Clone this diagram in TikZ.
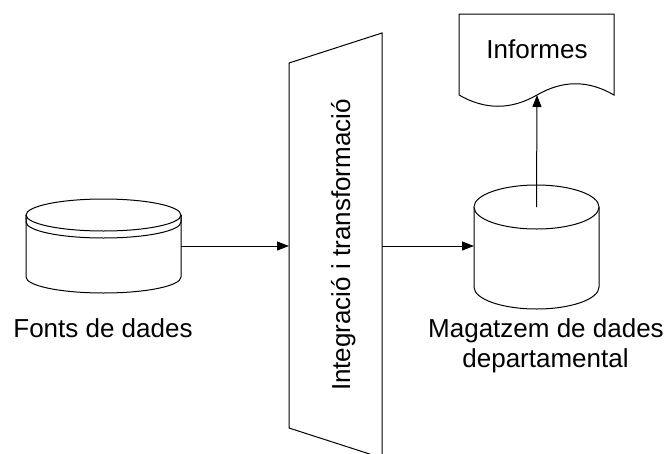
\documentclass[tikz,border=0pt]{standalone}
\usepackage{fontspec}
\setmainfont{Liberation Sans}
\usetikzlibrary{arrows.meta}
\begin{document}
\begin{tikzpicture}[x=0.75pt,y=-0.75pt,
  outline/.style={draw=black,line width=0.75pt,line join=miter},
  link/.style={draw=black,line width=0.75pt,-{Triangle[length=9pt,width=6.75pt]}},
  caption/.style={font=\fontsize{19.5pt}{22.5pt}\selectfont,inner sep=0pt,anchor=base}]
\useasboundingbox (0,0) rectangle (669,454);
\begin{scope}
\clip (0,0) rectangle (669,454);

% source disk with a double rim (y axis points down, so the lower halves run 180 -> 0)
\path[outline,fill=white] (26,215) -- (26,277) arc[start angle=180,end angle=0,x radius=77.5,y radius=16] -- (181,215);
\path[outline,fill=white] (103.5,215) ellipse[x radius=77.5,y radius=16];
\path[outline] (26,215) -- (26,222) arc[start angle=180,end angle=0,x radius=77.5,y radius=16] -- (181,215);
\coordinate (src) at (181,246);
\node[caption] (srclabel) at (103,337) {Fonts de dades};

% integration / transformation funnel
\path[outline] (289,63) -- (382,33) -- (382,458) -- (289,428) -- cycle;
\coordinate (funnel-w) at (289,246);
\coordinate (funnel-e) at (382,246);
\node[caption,rotate=90] (funnellabel) at (350,245) {Integració i transformació};

% departmental data store
\path[outline,fill=white] (474,207) -- (474,287) arc[start angle=180,end angle=0,x radius=62.5,y radius=22] -- (599,207);
\path[outline,fill=white] (536.5,207) ellipse[x radius=62.5,y radius=22];
\coordinate (store-w) at (474,246);
\coordinate (store-c) at (536.5,207);
\node[caption] (storelabel) at (546,337) {Magatzem de dades};
\node[caption] (storelabel2) at (545.5,367) {departamental};

% report document
\path[outline] (459,95) -- (459,14) -- (614,14) -- (614,95)
  .. controls (588,80) and (563,80) .. (537,95)
  .. controls (511,110) and (485,110) .. (459,95);
\coordinate (report-s) at (537,95);
\node[caption] (reportlabel) at (537,58) {Informes};

% connectors
\draw[link] (src) -- (funnel-w);
\draw[link] (funnel-e) -- (store-w);
\draw[link] (store-c) -- (report-s);
\end{scope}
\end{tikzpicture}
\end{document}
